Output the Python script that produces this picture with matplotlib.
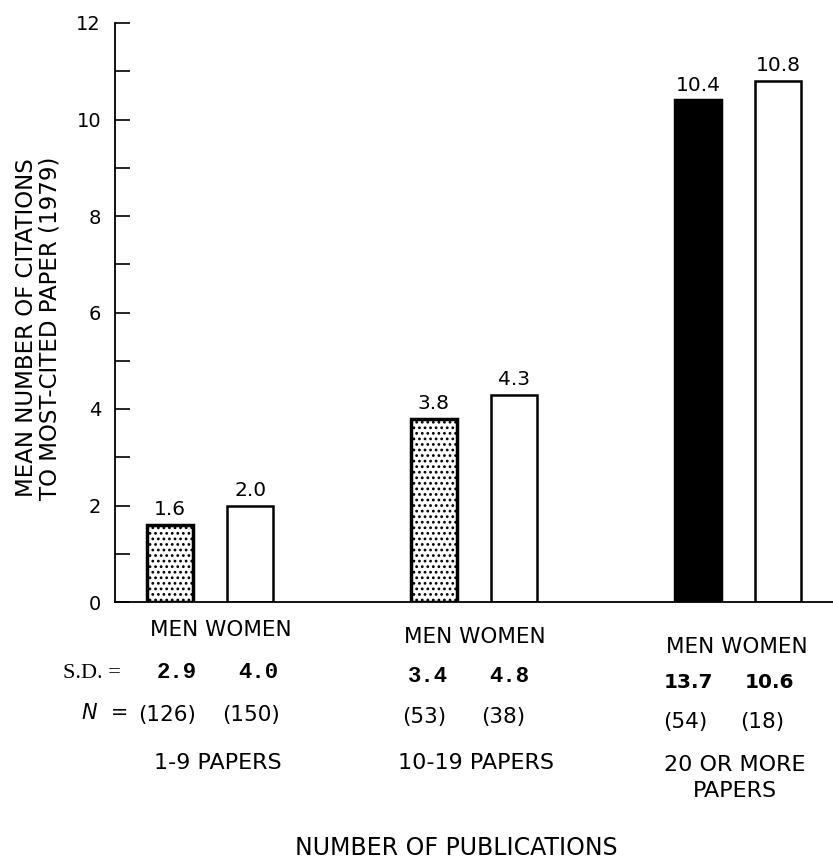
import matplotlib.pyplot as plt
import numpy as np

# data
groups = ["1-9 PAPERS", "10-19 PAPERS", "20 OR MORE\nPAPERS"]
men = [1.6, 3.8, 10.4]
women = [2.0, 4.3, 10.8]
sd_men = ["2.9", "3.4", "13.7"]
sd_women = ["4.0", "4.8", "10.6"]
n_men = ["(126)", "(53)", "(54)"]
n_women = ["(150)", "(38)", "(18)"]

plt.rcParams['font.family'] = 'DejaVu Sans'
plt.rcParams['hatch.linewidth'] = 1.2

fig = plt.figure(figsize=(8.33, 8.6), dpi=100)
ax = fig.add_axes([115 / 833, 1 - 602 / 860, 718 / 833, (602 - 23) / 860])

x = np.arange(len(groups))
off = 0.152
w = 0.174

men_colors = ['white', 'white', 'black']
men_hatch = ['...', '...', None]
bm = ax.bar(x - off, men, w, color=men_colors, edgecolor='black', linewidth=2.5)
for b, h in zip(bm, men_hatch):
    if h:
        b.set_hatch(h)
bw = ax.bar(x + off, women, w, color='white', edgecolor='black', linewidth=1.8)

ax.bar_label(bm, labels=[f"{v:.1f}" for v in men], padding=4, fontsize=14.5)
ax.bar_label(bw, labels=[f"{v:.1f}" for v in women], padding=4, fontsize=14.5)

ax.set_xlim(-0.36, 2.36)
ax.set_ylim(0, 12)
ax.set_yticks(range(0, 13, 2))
ax.set_yticks(range(1, 13, 2), minor=True)
ax.tick_params(axis='y', which='both', direction='in', length=11, width=1.2,
               labelsize=14, pad=10)
ax.set_xticks([])
for s in ['top', 'right']:
    ax.spines[s].set_visible(False)
ax.spines['left'].set_linewidth(1.3)
ax.spines['bottom'].set_linewidth(1.3)


# text rows under the bars (pixel positions converted to figure fractions)
def fy(py):
    return 1 - py / 860


def fx(px):
    return px / 833


fig.text(fx(38), fy(328), "MEAN NUMBER OF CITATIONS\nTO MOST-CITED PAPER (1979)",
         rotation=90, ha='center', va='center', fontsize=16.5, linespacing=1.05)

mw_pos = [(221, 630), (475, 637), (737, 647)]
sd_pos = [((177, 258), 673), ((428, 509), 677), ((688, 769), 683)]
n_pos = [((167, 251), 715), ((424, 503), 717), ((685, 762), 722)]

for i in range(3):
    fig.text(fx(mw_pos[i][0]), fy(mw_pos[i][1]), "MEN WOMEN",
             ha='center', va='center', fontsize=15.5)
    (xa, xb), yy = sd_pos[i]
    fam = 'Liberation Mono' if i < 2 else 'DejaVu Sans'
    fs = 16 if i < 2 else 14.5
    fig.text(fx(xa), fy(yy), sd_men[i], ha='center', va='center',
             fontsize=fs, family=fam, weight='bold')
    fig.text(fx(xb), fy(yy), sd_women[i], ha='center', va='center',
             fontsize=fs, family=fam, weight='bold')
    (xa, xb), yy = n_pos[i]
    fig.text(fx(xa), fy(yy), n_men[i], ha='center', va='center', fontsize=15.5)
    fig.text(fx(xb), fy(yy), n_women[i], ha='center', va='center', fontsize=15.5)

fig.text(fx(63), fy(673), "S.D. =", ha='left', va='center', fontsize=16,
         family='Liberation Serif')
fig.text(fx(82), fy(713), "N  =", ha='left', va='center', fontsize=15,
         style='italic')

fig.text(fx(218), fy(763), groups[0], ha='center', va='center', fontsize=16)
fig.text(fx(476), fy(763), groups[1], ha='center', va='center', fontsize=16)
fig.text(fx(735), fy(778), groups[2], ha='center', va='center', fontsize=16,
         linespacing=1.35)

fig.text(fx(456), fy(848), "NUMBER OF PUBLICATIONS", ha='center', va='center',
         fontsize=17)

fig.savefig('out.png', dpi=100)
